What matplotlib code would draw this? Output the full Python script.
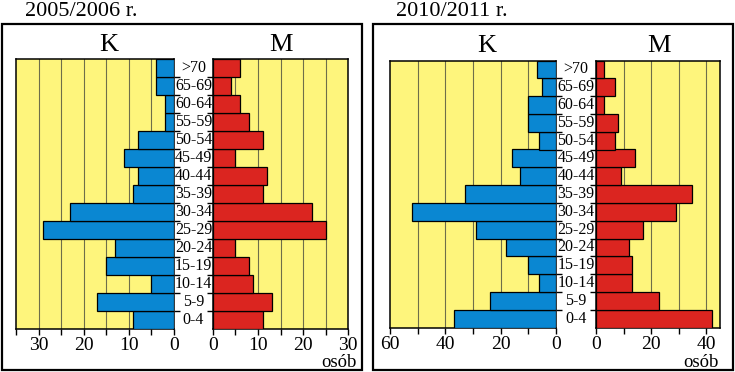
import matplotlib
matplotlib.use("Agg")
import matplotlib.pyplot as plt
from matplotlib.patches import Rectangle
import matplotlib.transforms as mtransforms

plt.rcParams['font.family'] = ['Liberation Serif', 'DejaVu Serif']

ages = ["0-4", "5-9", "10-14", "15-19", "20-24", "25-29", "30-34", "35-39",
        "40-44", "45-49", "50-54", "55-59", "60-64", "65-69", ">70"]

k_2005 = [9, 17, 5, 15, 13, 29, 23, 9, 8, 11, 8, 2, 2, 4, 4]
m_2005 = [11, 13, 9, 8, 5, 25, 22, 11, 12, 5, 11, 8, 6, 4, 6]
k_2010 = [37, 24, 6, 10, 18, 29, 52, 33, 13, 16, 6, 10, 10, 5, 7]
m_2010 = [42, 23, 13, 13, 12, 17, 29, 35, 9, 14, 7, 8, 3, 7, 3]

titles = ["2005/2006 r.", "2010/2011 r."]
side_labels = ["K", "M"]
unit_label = "osób"

YELLOW = "#FEF57C"
BLUE = "#0A87D2"
RED = "#DB2520"
GRID = "#6E6E4A"

W, H = 735, 372
fig = plt.figure(figsize=(W / 100, H / 100), dpi=100)
fig.patch.set_facecolor("white")


def px_axes(x0, x1, y0, y1):
    return fig.add_axes([x0 / W, 1 - y1 / H, (x1 - x0) / W, (y1 - y0) / H])


panels = [
    dict(k=k_2005, m=m_2005, klim=35, mlim=30, step=5, labstep=10,
         kx=(16, 174), mx=(213, 348), y=(59, 329), frame=(2, 24, 362, 370),
         title_x=25, osob_x=357),
    dict(k=k_2010, m=m_2010, klim=60, mlim=45, step=10, labstep=20,
         kx=(390, 556), mx=(596, 720), y=(60.5, 327.5), frame=(373, 24, 733, 370),
         title_x=396, osob_x=719),
]

ypos = list(range(len(ages)))

for i, p in enumerate(panels):
    fx0, fy0, fx1, fy1 = p["frame"]
    fig.patches.append(Rectangle((fx0 / W, 1 - fy1 / H), (fx1 - fx0) / W, (fy1 - fy0) / H,
                                 transform=fig.transFigure, fill=False,
                                 edgecolor="black", linewidth=1.6, zorder=0))
    fig.text(p["title_x"] / W, 1 - 16 / H, titles[i], fontsize=16,
             ha="left", va="baseline")

    axk = px_axes(p["kx"][0], p["kx"][1], p["y"][0], p["y"][1])
    axm = px_axes(p["mx"][0], p["mx"][1], p["y"][0], p["y"][1])

    for ax, vals, lim, col in ((axk, p["k"], p["klim"], BLUE),
                               (axm, p["m"], p["mlim"], RED)):
        ax.set_facecolor(YELLOW)
        ax.barh(ypos, vals, height=1.0, color=col, edgecolor="black",
                linewidth=0.9, zorder=3)
        ax.set_ylim(-0.5, len(ages) - 0.5)
        ticks = list(range(0, lim + 1, p["step"]))
        ax.set_xticks(ticks)
        ax.set_xticklabels([str(t) if t % p["labstep"] == 0 else "" for t in ticks],
                           fontsize=14)
        for t in ticks:
            if 0 < t < lim:
                ax.axvline(t, color=GRID, linewidth=0.8, zorder=1)
        ax.tick_params(axis="x", direction="out", length=4, width=1, pad=2)
        ax.set_yticks([b - 0.5 for b in range(1, len(ages))])
        ax.set_yticklabels([])
        ax.tick_params(axis="y", direction="out", length=4, width=1)
        for s in ax.spines.values():
            s.set_linewidth(1.1)
            s.set_color("black")

    axk.set_xlim(p["klim"], 0)
    axm.set_xlim(0, p["mlim"])
    axk.yaxis.tick_right()
    axm.yaxis.tick_left()

    axk.set_title(side_labels[0], fontsize=19, pad=6, x=0.585)
    axm.set_title(side_labels[1], fontsize=19, pad=6, x=0.505)

    # age group labels in the gap between the two halves
    cx = (p["kx"][1] + p["mx"][0]) / 2 / W
    trans = mtransforms.blended_transform_factory(fig.transFigure, axk.transData)
    for yv, lab in zip(ypos, ages):
        fig.text(cx, yv, lab, transform=trans, ha="center", va="center",
                 fontsize=11.5)

    fig.text(p["osob_x"] / W, 1 - 367 / H, unit_label, ha="right", va="baseline",
             fontsize=13.5)

fig.savefig("out.png", dpi=100, facecolor="white")
